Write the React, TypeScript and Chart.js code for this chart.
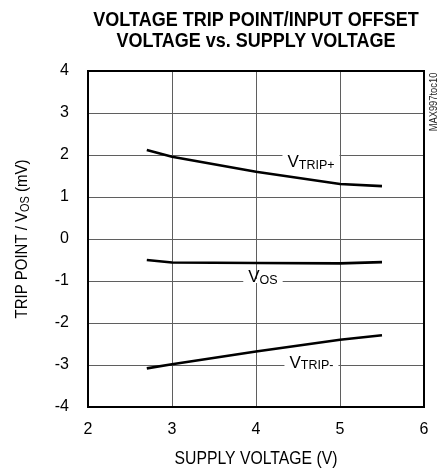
import React, { useEffect, useRef } from "react";
import { Chart, registerables } from "chart.js";

Chart.register(...registerables);

// ---- data ----
const supplyVoltage = [2.7, 3, 4, 5, 5.5];
const vTripPlus = [2.12, 1.96, 1.6, 1.31, 1.26];
const vOs = [-0.5, -0.56, -0.57, -0.58, -0.55];
const vTripMinus = [-3.08, -2.98, -2.68, -2.4, -2.29];
const xTickValues = [2, 3, 4, 5, 6];
const yTickValues = [-4, -3, -2, -1, 0, 1, 2, 3, 4];
const titleLines = ["VOLTAGE TRIP POINT/INPUT OFFSET", "VOLTAGE vs. SUPPLY VOLTAGE"];
const xAxisTitle = "SUPPLY VOLTAGE (V)";
const yAxisTitleParts = ["TRIP POINT / V", "OS", " (mV)"];
const figureCode = "MAX997toc10";
// curve labels: main text, subscript, centre x (V), gridline cut (mV), baseline (mV)
const curveLabelMain = ["V", "V", "V"];
const curveLabelSub = ["TRIP+", "OS", "TRIP-"];
const curveLabelX = [4.655, 4.083, 4.66];
const curveLabelGrid = [2, -1, -3];
const curveLabelBase = [1.714, -1.024, -3.07];

const FONT = "'Liberation Sans Narrow', 'Arial Narrow', 'Liberation Sans', Arial, sans-serif";

type Seg = { t: string; size: number; dy: number; bold?: boolean };

export default function App() {
  const ref = useRef<HTMLCanvasElement>(null);

  useEffect(() => {
    const canvas = ref.current!;
    const pts = (ys: number[]) => supplyVoltage.map((x, i) => ({ x, y: ys[i] }));

    // draw a run of text segments, horizontally condensed by factor k
    const drawSegments = (
      ctx: CanvasRenderingContext2D,
      parts: Seg[],
      x: number,
      y: number,
      align: "left" | "center",
      k: number
    ) => {
      let total = 0;
      const widths = parts.map((p) => {
        ctx.font = `${p.bold ? "bold " : ""}${p.size}px ${FONT}`;
        const w = ctx.measureText(p.t).width * k;
        total += w;
        return w;
      });
      let cx = align === "center" ? x - total / 2 : x;
      ctx.textAlign = "left";
      parts.forEach((p, i) => {
        ctx.font = `${p.bold ? "bold " : ""}${p.size}px ${FONT}`;
        ctx.save();
        ctx.translate(cx, y + p.dy);
        ctx.scale(k, 1);
        ctx.fillText(p.t, 0, 0);
        ctx.restore();
        cx += widths[i];
      });
      return total;
    };

    const decor = {
      id: "decor",
      beforeDatasetsDraw(chart: any) {
        const ctx: CanvasRenderingContext2D = chart.ctx;
        const xs = chart.scales.x;
        const ys = chart.scales.y;
        ctx.save();
        ctx.textBaseline = "alphabetic";
        for (let i = 0; i < curveLabelMain.length; i++) {
          const parts: Seg[] = [
            { t: curveLabelMain[i], size: 17, dy: 0 },
            { t: curveLabelSub[i], size: 12.5, dy: 1.5 },
          ];
          let total = 0;
          parts.forEach((p) => {
            ctx.font = `${p.size}px ${FONT}`;
            total += ctx.measureText(p.t).width;
          });
          const cx = xs.getPixelForValue(curveLabelX[i]);
          const gy = ys.getPixelForValue(curveLabelGrid[i]);
          const by = ys.getPixelForValue(curveLabelBase[i]);
          const pad = 5;
          ctx.fillStyle = "#fff";
          ctx.fillRect(cx - total / 2 - pad, gy - 2, total + 2 * pad, 4);
          ctx.fillStyle = "#000";
          drawSegments(ctx, parts, cx - total / 2, by, "left", 1);
        }
        ctx.restore();
      },
      afterDraw(chart: any) {
        const ctx: CanvasRenderingContext2D = chart.ctx;
        const a = chart.chartArea;
        ctx.save();
        // frame
        ctx.strokeStyle = "#000";
        ctx.lineWidth = 2;
        ctx.strokeRect(a.left, a.top, a.right - a.left, a.bottom - a.top);
        const cx = (a.left + a.right) / 2;
        ctx.fillStyle = "#000";
        ctx.textBaseline = "alphabetic";
        // title
        drawSegments(ctx, [{ t: titleLines[0], size: 20, dy: 0, bold: true }], cx, 26, "center", 0.9);
        drawSegments(ctx, [{ t: titleLines[1], size: 20, dy: 0, bold: true }], cx, 46.5, "center", 0.9);
        // x axis title
        drawSegments(ctx, [{ t: xAxisTitle, size: 17.5, dy: 0 }], cx, 464, "center", 0.9);
        // y axis title
        ctx.save();
        ctx.translate(27, (a.top + a.bottom) / 2);
        ctx.rotate(-Math.PI / 2);
        drawSegments(
          ctx,
          [
            { t: yAxisTitleParts[0], size: 17, dy: 0 },
            { t: yAxisTitleParts[1], size: 12.5, dy: 1.5 },
            { t: yAxisTitleParts[2], size: 17, dy: 0 },
          ],
          0,
          0,
          "center",
          0.88
        );
        ctx.restore();
        // figure code
        ctx.save();
        ctx.translate(437, 102);
        ctx.rotate(-Math.PI / 2);
        ctx.fillStyle = "#222";
        drawSegments(ctx, [{ t: figureCode, size: 11, dy: 0 }], 0, 0, "center", 0.85);
        ctx.restore();
        ctx.restore();
      },
    };

    const gridColor = (edgeMin: number, edgeMax: number) => (c: any) =>
      c.tick && (c.tick.value === edgeMin || c.tick.value === edgeMax) ? "rgba(0,0,0,0)" : "#5f5f5f";

    const chart = new Chart(canvas, {
      type: "line",
      data: {
        datasets: [
          { label: "VTRIP+", data: pts(vTripPlus), borderColor: "#000", borderWidth: 2.6, pointRadius: 0, tension: 0, fill: false },
          { label: "VOS", data: pts(vOs), borderColor: "#000", borderWidth: 2.6, pointRadius: 0, tension: 0, fill: false },
          { label: "VTRIP-", data: pts(vTripMinus), borderColor: "#000", borderWidth: 2.6, pointRadius: 0, tension: 0, fill: false },
        ],
      },
      options: {
        animation: false,
        responsive: false,
        devicePixelRatio: 1,
        layout: { padding: { top: 71, right: 22, left: 0, bottom: 0 } },
        scales: {
          x: {
            type: "linear",
            min: xTickValues[0],
            max: xTickValues[xTickValues.length - 1],
            afterBuildTicks: (s: any) => {
              s.ticks = xTickValues.map((v) => ({ value: v }));
            },
            afterFit: (s: any) => {
              s.height = 64;
            },
            ticks: { color: "#000", font: { family: FONT, size: 16 }, padding: 13, maxRotation: 0, autoSkip: false },
            grid: { color: gridColor(2, 6), lineWidth: 1, drawTicks: false },
            border: { display: false },
          },
          y: {
            type: "linear",
            min: yTickValues[0],
            max: yTickValues[yTickValues.length - 1],
            afterBuildTicks: (s: any) => {
              s.ticks = yTickValues.map((v) => ({ value: v }));
            },
            afterFit: (s: any) => {
              s.width = 88;
            },
            ticks: { color: "#000", font: { family: FONT, size: 16 }, padding: 19, autoSkip: false },
            grid: { color: gridColor(-4, 4), lineWidth: 1, drawTicks: false },
            border: { display: false },
          },
        },
        plugins: {
          legend: { display: false },
          title: { display: false },
          tooltip: { enabled: false },
        },
      } as any,
      plugins: [decor],
    });
    return () => chart.destroy();
  }, []);

  return (
    <div style={{ position: "fixed", left: 0, top: 0, width: 446, height: 471, background: "#fff" }}>
      <canvas ref={ref} width={446} height={471} style={{ display: "block", width: 446, height: 471 }} />
    </div>
  );
}
